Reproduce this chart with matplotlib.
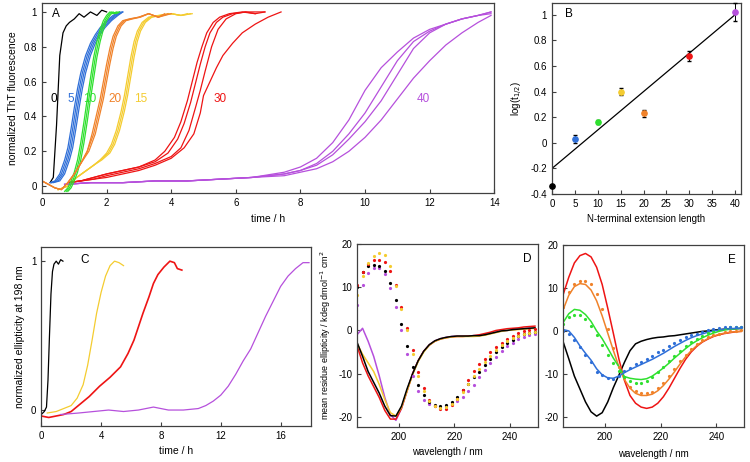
import matplotlib
matplotlib.use('Agg')
import matplotlib.pyplot as plt
import matplotlib.ticker as ticker

plt.rcParams['font.family'] = ['Liberation Sans', 'DejaVu Sans']
plt.rcParams['font.size'] = 7
plt.rcParams['axes.unicode_minus'] = False
plt.rcParams['xtick.direction'] = 'in'
plt.rcParams['ytick.direction'] = 'in'
plt.rcParams['xtick.major.size'] = 3
plt.rcParams['ytick.major.size'] = 3
plt.rcParams['axes.linewidth'] = 0.9
plt.rcParams['axes.edgecolor'] = '#404040'

BLACK = '#000000'
BLUE = '#2f6fd8'
GREEN = '#2fe02f'
ORANGE = '#f0822a'
YELLOW = '#f4cc30'
RED = '#ee1414'
PURPLE = '#b650dc'

# ---- panel A: ThT kinetics (time / h, normalized) ----
a0_t = [0.25, 0.35, 0.45, 0.55, 0.65, 0.75, 0.85, 1.0, 1.15, 1.3, 1.5, 1.7, 1.85, 2.0]
a0_y = [0.02, 0.05, 0.35, 0.75, 0.88, 0.92, 0.94, 0.96, 0.99, 0.97, 1.0, 0.98, 1.01, 1.0]

a5_t = [[0.25, 0.4, 0.55, 0.7, 0.8, 0.9, 1.0, 1.1, 1.2, 1.35, 1.5, 1.65, 1.8, 2.0, 2.2, 2.4],
        [0.3, 0.45, 0.6, 0.75, 0.85, 0.95, 1.05, 1.15, 1.25, 1.4, 1.55, 1.7, 1.85, 2.05, 2.25, 2.45],
        [0.3, 0.5, 0.65, 0.8, 0.9, 1.0, 1.1, 1.2, 1.3, 1.45, 1.6, 1.75, 1.9, 2.1, 2.3, 2.5],
        [0.35, 0.55, 0.7, 0.85, 0.95, 1.05, 1.15, 1.25, 1.35, 1.5, 1.65, 1.8, 1.95, 2.15, 2.35, 2.5]]
a5_y = [0.02, 0.03, 0.07, 0.15, 0.22, 0.33, 0.45, 0.56, 0.65, 0.75, 0.82, 0.87, 0.91, 0.95, 0.98, 1.0]

a10_t = [[0.7, 0.8, 0.9, 1.0, 1.1, 1.2, 1.3, 1.4, 1.5, 1.6, 1.7, 1.8, 1.9, 2.0, 2.1, 2.2, 2.3],
         [0.75, 0.85, 0.95, 1.05, 1.15, 1.25, 1.35, 1.45, 1.55, 1.65, 1.75, 1.85, 1.95, 2.05, 2.15, 2.25, 2.35],
         [0.8, 0.9, 1.0, 1.1, 1.2, 1.3, 1.4, 1.5, 1.6, 1.7, 1.8, 1.9, 2.0, 2.1, 2.2, 2.3, 2.4]]
a10_y = [-0.03, -0.01, 0.03, 0.08, 0.15, 0.25, 0.37, 0.5, 0.62, 0.74, 0.83, 0.9, 0.95, 0.98, 1.0, 0.99, 1.0]

a20_t = [[0.0, 0.2, 0.4, 0.6, 0.8, 1.0, 1.2, 1.4, 1.55, 1.7, 1.8, 1.9, 2.0, 2.1, 2.2, 2.35, 2.5, 2.7, 3.0, 3.3, 3.6, 4.0],
         [0.0, 0.2, 0.4, 0.6, 0.8, 1.0, 1.2, 1.4, 1.6, 1.75, 1.85, 1.95, 2.05, 2.15, 2.25, 2.4, 2.55, 2.75, 3.0, 3.3, 3.6, 3.9],
         [0.0, 0.2, 0.4, 0.6, 0.8, 1.0, 1.2, 1.45, 1.65, 1.8, 1.9, 2.0, 2.1, 2.2, 2.3, 2.45, 2.6, 2.8, 3.05, 3.3, 3.6, 3.8]]
a20_y = [0.03, 0.01, -0.01, -0.02, 0.02, 0.07, 0.13, 0.2, 0.3, 0.42, 0.5, 0.6, 0.7, 0.79, 0.86, 0.92, 0.95, 0.96, 0.97, 0.99, 0.97, 0.99]

a15_t = [[0.5, 0.8, 1.0, 1.3, 1.6, 1.8, 2.0, 2.15, 2.3, 2.45, 2.55, 2.65, 2.75, 2.85, 2.95, 3.1, 3.3, 3.6, 4.0, 4.3, 4.65],
         [0.5, 0.8, 1.0, 1.3, 1.6, 1.8, 2.05, 2.2, 2.35, 2.5, 2.6, 2.7, 2.8, 2.9, 3.0, 3.15, 3.35, 3.65, 4.0, 4.3, 4.6],
         [0.5, 0.8, 1.0, 1.3, 1.6, 1.85, 2.1, 2.25, 2.4, 2.55, 2.65, 2.75, 2.85, 2.95, 3.05, 3.2, 3.4, 3.7, 4.0, 4.3, 4.5]]
a15_y = [-0.02, 0.0, 0.04, 0.08, 0.12, 0.15, 0.19, 0.24, 0.32, 0.43, 0.52, 0.63, 0.74, 0.83, 0.89, 0.94, 0.97, 0.98, 0.99, 0.98, 0.99]

a30_t = [[0.8, 1.2, 1.6, 2.0, 2.5, 3.0, 3.5, 3.8, 4.1, 4.3, 4.5, 4.65, 4.8, 4.95, 5.1, 5.3, 5.5, 5.8, 6.2, 6.6],
         [0.8, 1.2, 1.6, 2.0, 2.5, 3.0, 3.5, 3.9, 4.2, 4.4, 4.6, 4.75, 4.9, 5.05, 5.2, 5.4, 5.6, 5.9, 6.3, 6.9],
         [0.8, 1.2, 1.6, 2.0, 2.5, 3.0, 3.5, 4.0, 4.3, 4.55, 4.75, 4.9, 5.05, 5.25, 5.45, 5.7, 6.0, 6.3, 6.6, 6.9],
         [0.8, 1.2, 1.6, 2.0, 2.5, 3.0, 3.5, 4.0, 4.4, 4.7, 4.9, 5.0, 5.2, 5.4, 5.6, 5.9, 6.2, 6.6, 7.0, 7.4]]
a30_y = [[0.02, 0.03, 0.05, 0.07, 0.09, 0.11, 0.15, 0.2, 0.28, 0.37, 0.49, 0.6, 0.71, 0.8, 0.88, 0.94, 0.97, 0.99, 1.0, 0.99],
         [0.02, 0.03, 0.05, 0.07, 0.09, 0.11, 0.14, 0.19, 0.27, 0.36, 0.48, 0.59, 0.7, 0.8, 0.88, 0.94, 0.97, 0.99, 1.0, 1.0],
         [0.02, 0.03, 0.04, 0.06, 0.08, 0.1, 0.13, 0.17, 0.22, 0.32, 0.45, 0.55, 0.66, 0.8, 0.9, 0.96, 0.99, 1.0, 0.99, 1.0],
         [0.02, 0.03, 0.04, 0.05, 0.07, 0.09, 0.12, 0.16, 0.22, 0.3, 0.42, 0.52, 0.6, 0.68, 0.75, 0.82, 0.88, 0.93, 0.97, 1.0]]

a40_t = [0.7, 1.5, 2.5, 3.5, 4.5, 5.5, 6.5, 7.5, 8.0, 8.5, 9.0, 9.5, 10.0, 10.5, 11.0, 11.5, 12.0, 12.5, 13.0, 13.5, 13.9]
a40_y = [[0.01, 0.02, 0.02, 0.03, 0.03, 0.04, 0.05, 0.08, 0.11, 0.16, 0.25, 0.38, 0.55, 0.68, 0.77, 0.85, 0.9, 0.93, 0.96, 0.98, 1.0],
         [0.01, 0.02, 0.02, 0.03, 0.03, 0.04, 0.05, 0.07, 0.09, 0.13, 0.2, 0.3, 0.42, 0.57, 0.72, 0.83, 0.89, 0.93, 0.96, 0.98, 1.0],
         [0.01, 0.02, 0.02, 0.03, 0.03, 0.04, 0.05, 0.07, 0.09, 0.12, 0.18, 0.27, 0.37, 0.49, 0.64, 0.79, 0.88, 0.93, 0.96, 0.98, 0.99],
         [0.01, 0.02, 0.02, 0.03, 0.03, 0.04, 0.05, 0.06, 0.08, 0.1, 0.14, 0.2, 0.28, 0.38, 0.5, 0.62, 0.72, 0.81, 0.88, 0.94, 0.98]]

# ---- panel B: log(t1/2) vs extension length ----
b_len = [0, 5, 10, 15, 20, 30, 40]
b_log = [-0.34, 0.03, 0.16, 0.40, 0.23, 0.68, 1.02]
b_err = [0.0, 0.03, 0.015, 0.03, 0.025, 0.04, 0.07]
b_col = [BLACK, BLUE, GREEN, YELLOW, ORANGE, RED, PURPLE]
fit_x = [0, 40]
fit_y = [-0.2, 1.0]

# ---- panel C: ellipticity kinetics at 198 nm ----
c0_t = [0.0, 0.2, 0.35, 0.45, 0.55, 0.65, 0.75, 0.85, 1.0, 1.15, 1.3, 1.45]
c0_y = [-0.03, -0.01, 0.02, 0.2, 0.5, 0.78, 0.93, 0.98, 1.0, 0.98, 1.01, 1.0]
c15_t = [0.4, 1.0, 1.5, 2.0, 2.4, 2.8, 3.1, 3.4, 3.7, 4.0, 4.3, 4.6, 4.9, 5.2, 5.5]
c15_y = [-0.02, -0.01, 0.01, 0.03, 0.08, 0.17, 0.3, 0.47, 0.65, 0.79, 0.9, 0.97, 1.0, 0.99, 0.97]
c30_t = [0.0, 0.5, 1.0, 1.5, 2.0, 2.6, 3.2, 3.9, 4.6, 5.3, 5.8, 6.2, 6.5, 6.8, 7.2, 7.5, 7.8, 8.2, 8.6, 8.9, 9.1, 9.4]
c30_y = [-0.04, -0.05, -0.04, -0.03, -0.01, 0.04, 0.09, 0.16, 0.22, 0.29, 0.38, 0.47, 0.56, 0.65, 0.76, 0.85, 0.91, 0.96, 1.0, 0.99, 0.95, 0.94]
c40_t = [1.3, 2.5, 3.5, 4.5, 5.5, 6.5, 7.5, 8.5, 9.5, 10.5, 11.0, 11.5, 12.0, 12.5, 13.0, 13.5, 14.0,
         14.5, 15.0, 15.5, 16.0, 16.5, 17.0, 17.5, 17.9]
c40_y = [-0.03, -0.02, -0.01, 0.0, -0.01, 0.0, 0.02, 0.0, 0.0, 0.01, 0.03, 0.06, 0.1, 0.16, 0.24, 0.33, 0.41,
         0.52, 0.63, 0.73, 0.83, 0.9, 0.95, 0.99, 0.99]

# ---- panels D/E: CD spectra, wavelength every 2 nm from 185 to 249 ----
wl = list(range(185, 251, 2))

d_black = [-2.7, -6.0, -9.5, -12.0, -14.5, -17.5, -19.7, -19.8, -17.5, -13.5, -10.0, -7.0, -4.8, -3.3, -2.4, -1.9, -1.6,
           -1.4, -1.3, -1.3, -1.3, -1.2, -1.2, -1.0, -0.7, -0.4, -0.1, 0.0, 0.2, 0.3, 0.4, 0.5, 0.6]
d_red = [-3.5, -7.5, -10.5, -13.0, -15.5, -18.5, -20.5, -20.5, -18.0, -14.0, -10.0, -7.0, -4.8, -3.4, -2.5, -2.0, -1.7,
         -1.5, -1.4, -1.4, -1.3, -1.2, -1.0, -0.7, -0.4, 0.0, 0.2, 0.4, 0.5, 0.6, 0.8, 0.9, 1.0]
d_yellow = [-3.0, -5.5, -7.5, -9.5, -12.5, -16.0, -19.0, -19.8, -17.8, -14.0, -10.2, -7.2, -5.0, -3.4, -2.5, -2.0, -1.7,
            -1.5, -1.4, -1.4, -1.4, -1.4, -1.3, -1.1, -0.8, -0.5, -0.2, 0.0, 0.1, 0.2, 0.3, 0.4, 0.5]
d_purple = [-1.0, 0.5, -2.5, -6.0, -10.5, -15.5, -19.5, -20.8, -18.0, -14.0, -10.0, -7.0, -4.8, -3.3, -2.4, -1.9, -1.6,
            -1.4, -1.3, -1.3, -1.3, -1.2, -1.2, -1.0, -0.7, -0.4, -0.1, 0.0, 0.2, 0.3, 0.4, 0.5, 0.5]
d_yellow_end = [8.1, 12.5, 15.5, 17.3, 18.0, 17.5, 15.0, 10.3, 5.0, 0.0, -5.5, -10.5, -14.0, -16.3, -17.5, -18.0, -17.8,
                -17.0, -15.8, -14.2, -12.3, -10.5, -9.0, -7.4, -5.9, -4.5, -3.4, -2.5, -1.8, -1.2, -0.8, -0.5, -0.3]
d_red_end = [10.5, 13.5, 15.3, 16.2, 16.3, 15.8, 13.8, 10.4, 5.5, 0.5, -4.5, -9.5, -13.3, -16.0, -17.5, -18.2, -18.2,
             -17.3, -15.8, -13.8, -11.5, -9.3, -7.8, -6.5, -5.0, -3.8, -2.8, -2.0, -1.3, -0.7, -0.2, 0.1, 0.4]
d_black_end = [10.1, 13.5, 14.8, 15.2, 15.0, 13.8, 11.0, 7.0, 1.5, -3.5, -8.5, -12.5, -15.0, -16.5, -17.2, -17.4, -17.2,
               -16.5, -15.3, -13.8, -12.3, -10.8, -9.5, -8.0, -6.5, -5.0, -3.8, -2.9, -2.1, -1.4, -0.9, -0.6, -0.4]
d_purple_end = [5.8, 10.5, 13.3, 14.4, 14.5, 13.0, 9.8, 5.5, 0.0, -5.5, -10.5, -14.0, -16.0, -17.0, -17.5, -17.6, -17.5,
                -17.0, -16.2, -15.3, -14.0, -12.5, -10.8, -9.2, -7.6, -6.1, -4.8, -3.7, -2.8, -2.0, -1.5, -1.1, -0.8]

e_black = [-2.6, -6.5, -10.5, -13.5, -16.5, -18.8, -19.8, -19.0, -16.5, -13.2, -10.3, -7.3, -4.6, -3.0, -2.4, -2.0, -1.7,
           -1.5, -1.4, -1.2, -1.1, -0.9, -0.7, -0.5, -0.3, -0.1, 0.0, 0.2, 0.3, 0.4, 0.5, 0.5, 0.6]
e_red = [8.5, 12.5, 15.8, 17.5, 18.0, 17.2, 14.8, 10.8, 5.3, -0.5, -6.5, -11.5, -15.0, -16.8, -17.7, -18.0, -17.7,
         -16.8, -15.3, -13.3, -11.0, -8.7, -6.6, -4.9, -3.6, -2.6, -1.9, -1.3, -0.9, -0.6, -0.4, -0.2, -0.1]
e_orange = [5.0, 8.3, 10.3, 11.0, 10.8, 9.5, 7.0, 3.5, -0.5, -4.5, -8.3, -11.3, -13.3, -14.5, -15.0, -15.0, -14.7,
            -13.9, -12.7, -11.2, -9.5, -7.7, -6.0, -4.6, -3.4, -2.5, -1.8, -1.2, -0.8, -0.5, -0.3, -0.2, -0.1]
e_orange_dots = [5.5, 9.0, 11.0, 11.7, 11.7, 10.8, 8.5, 5.0, 0.5, -4.0, -8.3, -11.0, -13.0, -14.0, -14.5, -14.5, -14.2,
                 -13.3, -12.0, -10.5, -8.8, -7.0, -5.5, -4.2, -3.0, -2.2, -1.5, -1.0, -0.6, -0.3, -0.1, 0.0, 0.1]
e_green = [2.0, 4.0, 5.0, 4.8, 3.8, 2.2, 0.0, -1.8, -4.0, -6.3, -8.3, -10.6, -11.0, -11.2, -11.3, -11.1, -10.5,
           -9.6, -8.6, -7.5, -6.3, -5.2, -4.1, -3.1, -2.3, -1.6, -1.0, -0.5, -0.1, 0.2, 0.4, 0.5, 0.6]
e_green_dots = [1.5, 3.2, 3.8, 3.6, 2.8, 1.2, -1.0, -3.2, -5.5, -7.5, -9.3, -10.8, -11.6, -12.0, -12.0, -11.6, -10.8,
                -9.5, -8.3, -7.0, -5.8, -4.6, -3.5, -2.6, -1.8, -1.1, -0.5, 0.0, 0.4, 0.7, 0.9, 1.0, 1.0]
e_blue = [0.3, 0.0, -1.5, -3.5, -5.2, -6.8, -8.8, -10.2, -10.9, -11.0, -10.5, -9.7, -9.0, -8.4, -7.8, -7.2, -6.6,
          -5.9, -5.2, -4.4, -3.6, -2.9, -2.2, -1.6, -1.1, -0.7, -0.3, 0.0, 0.2, 0.4, 0.5, 0.6, 0.6]
e_blue_dots = [0.0, -0.8, -2.0, -3.8, -5.5, -7.2, -9.5, -10.3, -11.0, -11.2, -10.5, -9.3, -8.6, -7.8, -7.3, -6.6, -5.9,
               -5.0, -4.4, -3.6, -2.8, -2.2, -1.5, -1.0, -0.6, -0.2, 0.1, 0.4, 0.6, 0.8, 0.9, 1.0, 1.0]

fig = plt.figure(figsize=(7.5, 4.62), dpi=100)
axA = fig.add_axes([0.056, 0.582, 0.603, 0.411])
axB = fig.add_axes([0.736, 0.580, 0.252, 0.413])
axC = fig.add_axes([0.055, 0.078, 0.359, 0.387])
axD = fig.add_axes([0.476, 0.076, 0.241, 0.396])
axE = fig.add_axes([0.751, 0.076, 0.241, 0.394])

lw = 0.9
# A
axA.plot(a0_t, a0_y, color=BLACK, lw=lw)
for t in a5_t:
    axA.plot(t, a5_y, color=BLUE, lw=lw)
for t in a15_t:
    axA.plot(t, a15_y, color=YELLOW, lw=lw)
for t, y in zip(a30_t, a30_y):
    axA.plot(t, y, color=RED, lw=lw)
for y in a40_y:
    axA.plot(a40_t, y, color=PURPLE, lw=lw)
for t in a10_t:
    axA.plot(t, a10_y, color=GREEN, lw=lw)
for t in a20_t:
    axA.plot(t, a20_y, color=ORANGE, lw=lw)
axA.set_xlim(0, 14)
axA.set_ylim(-0.04, 1.05)
axA.set_xticks(range(0, 15, 2))
axA.set_yticks([0, 0.2, 0.4, 0.6, 0.8, 1])
axA.yaxis.set_major_formatter(ticker.FuncFormatter(lambda v, p: '%g' % v))
axA.set_xlabel('time / h', fontsize=7.5)
axA.set_ylabel('normalized ThT fluorescence', fontsize=7.5)
axA.text(0.022, 0.93, 'A', transform=axA.transAxes, fontsize=8.5)
num_lab = [('0', 0.27, BLACK), ('5', 0.8, BLUE), ('10', 1.28, GREEN), ('20', 2.07, ORANGE),
           ('15', 2.85, YELLOW), ('30', 5.3, RED), ('40', 11.6, PURPLE)]
for s, x, c in num_lab:
    axA.text(x, 0.5, s, color=c, fontsize=8.5, va='center')

# B
axB.plot(fit_x, fit_y, color=BLACK, lw=0.9)
for x, y, e, c in zip(b_len, b_log, b_err, b_col):
    axB.errorbar(x, y, yerr=e, fmt='o', color=c, ms=3.8, ecolor=BLACK, elinewidth=0.7, capsize=1.5,
                 clip_on=False, zorder=3)
axB.set_xlim(0, 41.3)
axB.set_ylim(-0.4, 1.09)
axB.set_xticks(range(0, 41, 5))
axB.set_yticks([-0.4, -0.2, 0, 0.2, 0.4, 0.6, 0.8, 1])
axB.yaxis.set_major_formatter(ticker.FuncFormatter(lambda v, p: '%g' % round(v, 1)))
axB.set_xlabel('N-terminal extension length', fontsize=7)
axB.set_ylabel('log(t$_{1/2}$)', fontsize=7)
axB.text(0.07, 0.93, 'B', transform=axB.transAxes, fontsize=8.5)

# C
axC.plot(c0_t, c0_y, color=BLACK, lw=lw)
axC.plot(c15_t, c15_y, color=YELLOW, lw=lw)
axC.plot(c30_t, c30_y, color=RED, lw=1.2)
axC.plot(c40_t, c40_y, color=PURPLE, lw=lw)
axC.set_xlim(0, 18)
axC.set_ylim(-0.107, 1.094)
axC.set_xticks([0, 4, 8, 12, 16])
axC.set_yticks([0, 1])
axC.set_xlabel('time / h', fontsize=7.5)
axC.set_ylabel('normalized ellipticity at 198 nm', fontsize=7.5)
axC.text(0.145, 0.91, 'C', transform=axC.transAxes, fontsize=8.5)

# D
for y, c in [(d_purple, PURPLE), (d_red, RED), (d_yellow, YELLOW), (d_black, BLACK)]:
    axD.plot(wl, y, color=c, lw=1.1)
for y, c in [(d_purple_end, PURPLE), (d_black_end, BLACK), (d_red_end, RED), (d_yellow_end, YELLOW)]:
    axD.plot(wl, y, 'o', color=c, ms=2.3, mew=0)
axD.set_xlim(185, 250)
axD.set_ylim(-22.3, 20)
axD.set_xticks([200, 220, 240])
axD.set_yticks([-20, -10, 0, 10, 20])
axD.set_xlabel('wavelength / nm', fontsize=7)
axD.set_ylabel('mean residue ellipticity / kdeg dmol$^{-1}$ cm$^{2}$', fontsize=6.5)
axD.text(0.92, 0.9, 'D', transform=axD.transAxes, fontsize=8.5)

# E
for y, c in [(e_black, BLACK), (e_red, RED), (e_orange, ORANGE), (e_green, GREEN), (e_blue, BLUE)]:
    axE.plot(wl, y, color=c, lw=1.1)
for y, c in [(e_orange_dots, ORANGE), (e_green_dots, GREEN), (e_blue_dots, BLUE)]:
    axE.plot(wl, y, 'o', color=c, ms=2.3, mew=0)
axE.set_xlim(185, 250)
axE.set_ylim(-22.3, 20)
axE.set_xticks([200, 220, 240])
axE.set_yticks([-20, -10, 0, 10, 20])
axE.set_xlabel('wavelength / nm', fontsize=7, labelpad=5)
axE.text(0.91, 0.9, 'E', transform=axE.transAxes, fontsize=8.5)

for ax in (axA, axB, axC, axD, axE):
    ax.tick_params(labelsize=7, color='#404040', width=0.8)

fig.savefig('out.png', dpi=100)
